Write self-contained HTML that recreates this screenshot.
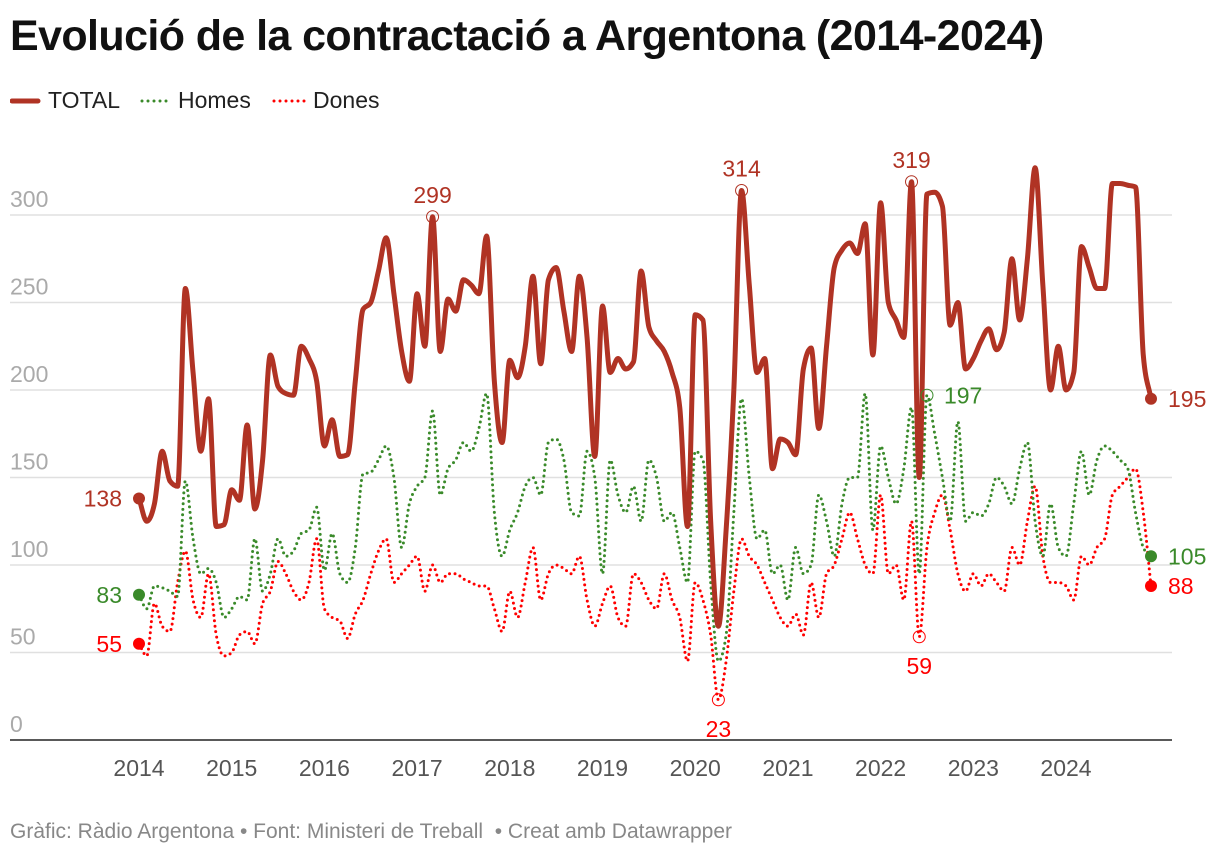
<!DOCTYPE html>
<html><head><meta charset="utf-8">
<style>
body{margin:0;background:#fff;width:1220px;height:856px;overflow:hidden;font-family:"Liberation Sans",sans-serif;}
h1{position:absolute;left:10px;top:12px;margin:0;font-size:43px;font-weight:bold;color:#111;letter-spacing:-0.6px;white-space:nowrap;}
.leg{position:absolute;top:87px;font-size:23px;color:#222;}
.foot{position:absolute;left:10px;top:820px;font-size:21px;color:#888;white-space:nowrap;}
</style></head><body>
<h1>Evolució de la contractació a Argentona (2014-2024)</h1>
<div>
<svg style="position:absolute;left:10px;top:90px" width="400" height="22">
<line x1="2" y1="11" x2="28" y2="11" stroke="#b03324" stroke-width="5" stroke-linecap="round"/>
<line x1="132" y1="11" x2="162" y2="11" stroke="#3a8a2a" stroke-width="3" stroke-dasharray="0 6" stroke-linecap="round"/>
<line x1="264" y1="11" x2="296" y2="11" stroke="#f00" stroke-width="3" stroke-dasharray="0 6" stroke-linecap="round"/>
</svg>
<span class="leg" style="left:48px">TOTAL</span>
<span class="leg" style="left:178px">Homes</span>
<span class="leg" style="left:313px">Dones</span>
</div>
<svg id="chart" style="position:absolute;left:0;top:0" width="1220" height="856"></svg>
<div class="foot">Gràfic: Ràdio Argentona • Font: Ministeri de Treball &nbsp;• Creat amb Datawrapper</div>
<script>
const years=["2014","2015","2016","2017","2018","2019","2020","2021","2022","2023","2024"];
const yTicks=[0,50,100,150,200,250,300];
const total=[138,125,135,165,148,145,258,210,165,195,122,123,
143,137,180,132,160,220,202,198,197,225,218,205,
168,183,162,163,205,246,250,268,287,255,222,205,
255,225,299,222,252,245,263,260,255,288,205,170,
217,207,225,265,215,263,270,245,222,265,230,162,
248,210,218,212,216,268,236,228,222,210,190,122,
243,240,125,65,120,200,314,260,210,218,155,172,
170,163,212,224,178,225,270,280,284,278,295,220,
307,250,240,230,319,150,312,313,305,237,250,212,
218,228,235,223,233,275,240,275,327,260,200,225,
200,210,282,270,258,258,318,318,317,316,220,195];
const homes=[83,75,88,87,85,82,148,115,95,98,90,70,
75,82,80,115,85,95,115,105,108,118,120,133,
97,118,95,90,110,152,153,160,168,150,110,135,
145,150,188,140,155,160,170,165,178,198,130,105,
120,130,145,150,140,170,172,160,130,128,165,150,
95,160,140,130,145,125,160,150,125,130,110,90,
165,160,90,45,60,130,195,150,115,120,95,100,
80,110,95,100,140,125,105,135,150,150,198,120,
168,150,135,155,190,95,197,175,150,125,182,125,
130,128,135,150,145,135,155,170,125,105,135,110,
105,135,165,140,160,168,165,160,155,130,110,105];
const dones=[55,48,78,65,62,90,108,80,70,95,60,48,
50,60,62,55,78,85,102,95,85,80,90,115,
75,70,68,58,72,80,95,108,115,90,95,100,
105,85,100,90,95,95,92,90,88,88,75,62,
85,70,90,110,80,95,100,98,95,105,80,65,
78,88,70,65,95,90,80,75,95,80,70,45,
90,80,60,23,45,85,115,105,100,90,80,70,
65,72,60,90,70,95,100,115,130,115,100,95,
140,95,100,80,125,59,110,130,140,120,95,85,
95,88,95,90,85,110,100,125,145,105,90,90,
88,80,105,100,110,115,140,145,150,155,130,88];
const svg=document.getElementById('chart');
const NS='http://www.w3.org/2000/svg';
const X=i=>139+i*(1151-139)/131;
const Y=v=>740-v*1.75;
function mk(tag,attrs,parent){const e=document.createElementNS(NS,tag);for(const k in attrs)e.setAttribute(k,attrs[k]);(parent||svg).appendChild(e);return e;}
yTicks.forEach(t=>{
 if(t>0){const g=mk('line',{x1:10,x2:1172,y1:Y(t),y2:Y(t),stroke:'#e0e0e0','stroke-width':1.5});
 
 }
 const tx=mk('text',{x:10,y:Y(t)-8,fill:'#aaa','font-size':23,'font-family':'Liberation Sans'});
 
 
 tx.textContent=t;
});
const base=mk('line',{x1:10,x2:1172,y1:740,y2:740,stroke:'#222','stroke-width':1.5});


years.forEach((y,k)=>{
 const tx=mk('text',{x:X(k*12),y:776,fill:'#555','font-size':23,'text-anchor':'middle','font-family':'Liberation Sans'});
 
 
 tx.textContent=y;
});
function monotone(pts){
 const n=pts.length;const d=[],m=[];
 for(let i=0;i<n-1;i++)d.push((pts[i+1][1]-pts[i][1])/(pts[i+1][0]-pts[i][0]));
 for(let i=0;i<n;i++){
  if(i==0)m.push(d[0]);else if(i==n-1)m.push(d[n-2]);
  else{ if(d[i-1]*d[i]<=0)m.push(0);else{const h0=pts[i][0]-pts[i-1][0],h1=pts[i+1][0]-pts[i][0];
   const p=(d[i-1]*h1+d[i]*h0)/(h0+h1);
   m.push((Math.sign(d[i-1])+Math.sign(d[i]))*Math.min(Math.abs(d[i-1]),Math.abs(d[i]),0.5*Math.abs(p)));}}
 }
 let s='M'+pts[0][0]+','+pts[0][1];
 for(let i=0;i<n-1;i++){const h=(pts[i+1][0]-pts[i][0])/3;
  s+=' C'+(pts[i][0]+h)+','+(pts[i][1]+m[i]*h)+' '+(pts[i+1][0]-h)+','+(pts[i+1][1]-m[i+1]*h)+' '+pts[i+1][0]+','+pts[i+1][1];}
 return s;
}
function series(vals,color,w,dash,name){
 const p=mk('path',{d:monotone(vals.map((v,i)=>[X(i),Y(v)])),fill:'none',stroke:color,'stroke-width':w,'stroke-linecap':'round','stroke-linejoin':'round'});
 if(dash)p.setAttribute('stroke-dasharray',dash);
 
 
 return p;
}
series(dones,'#f00',3,'0 5.5','line-dones');
series(homes,'#3a8a2a',3,'0 5.5','line-homes');
series(total,'#b03324',5,null,'line-total');
function label(txt,x,y,color,anchor,name){
 const t=mk('text',{x:x,y:y,fill:color,'font-size':23,'text-anchor':anchor,'font-family':'Liberation Sans'});
 
 
 t.textContent=txt;
}
function dot(i,v,color,name){
 const c=mk('circle',{cx:X(i),cy:Y(v),r:6,fill:color});
 
 
}
function ring(i,v,color,name){
 const c=mk('circle',{cx:X(i),cy:Y(v),r:6,fill:'none',stroke:color,'stroke-width':1});
 
 
}
const L=total.length-1;
[[total,'#b03324','total'],[homes,'#3a8a2a','homes'],[dones,'#f00','dones']].forEach(([s,c,n])=>{
 dot(0,s[0],c,'start-dot-'+n);dot(L,s[L],c,'end-dot-'+n);
 label(s[0],122,Y(s[0])+8,c,'end','start-label-'+n);
 label(s[L],1168,Y(s[L])+8,c,'start','end-label-'+n);
});
[[38,total,'#b03324',-1],[78,total,'#b03324',-1],[100,total,'#b03324',-1],[75,dones,'#f00',1],[101,dones,'#f00',1]].forEach(([i,s,c,dir])=>{
 ring(i,s[i],c,'annotation-ring-'+i);
 label(s[i],X(i),dir<0?Y(s[i])-14:Y(s[i])+37,c,'middle','annotation-'+i);
});
ring(102,homes[102],'#3a8a2a','annotation-ring-homes');
label(homes[102],X(102)+17,Y(homes[102])+8,'#3a8a2a','start','annotation-homes-peak');
</script>
</body></html>
